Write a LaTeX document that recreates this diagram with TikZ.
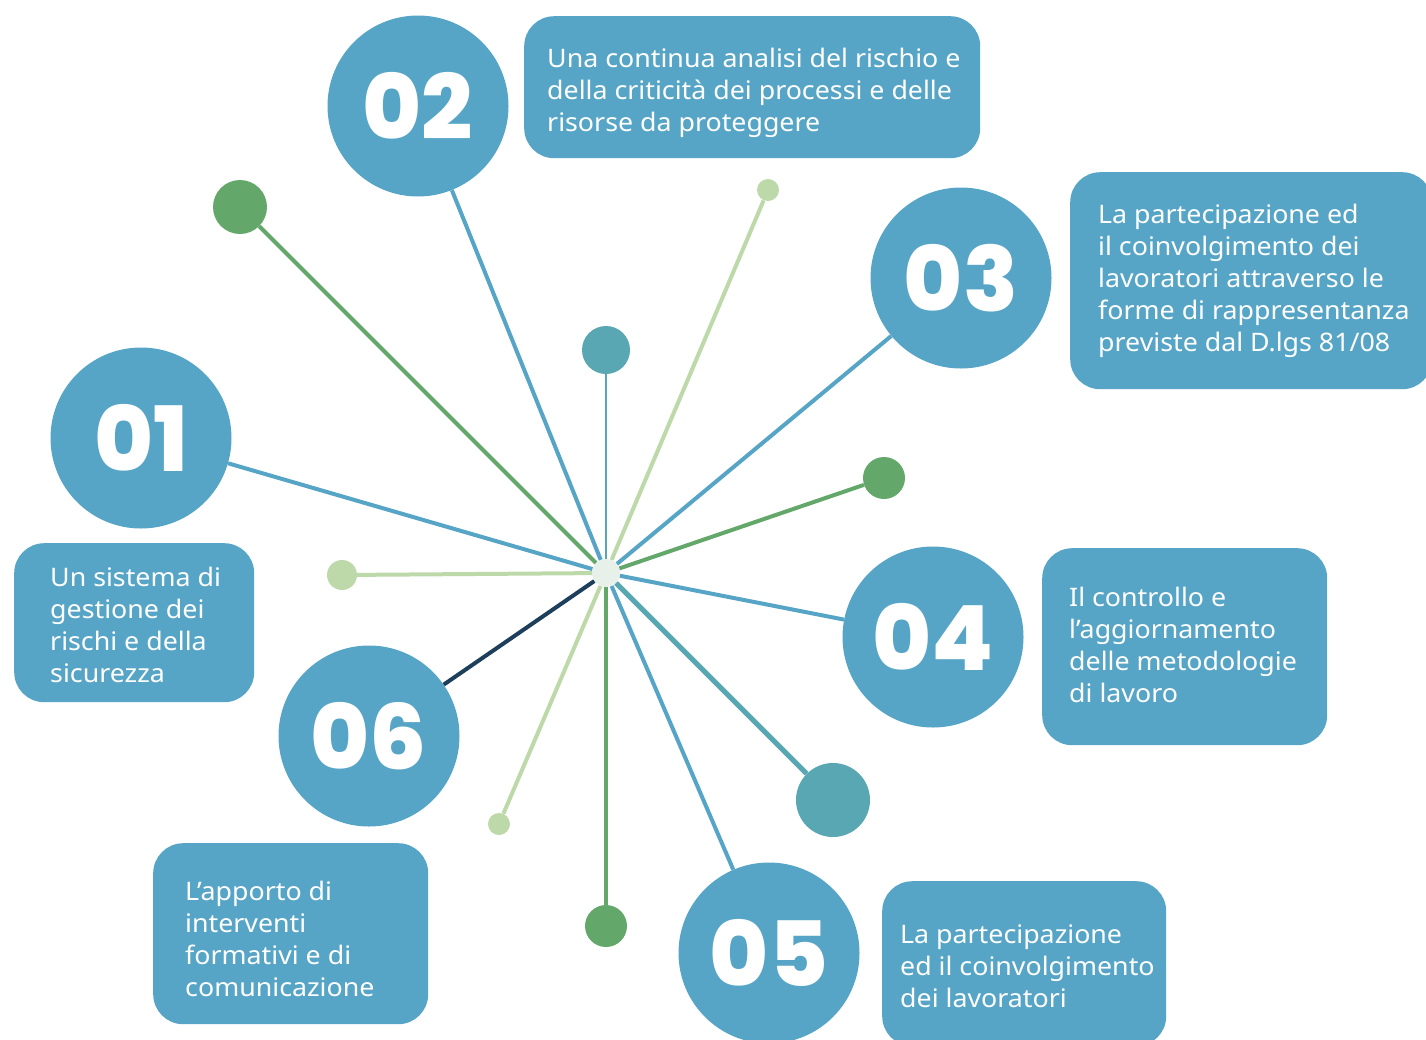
\documentclass[tikz,border=0pt]{standalone}
\usepackage{fontspec}
\setmainfont{Noto Sans}[FakeStretch=1.05]
\newfontfamily\numfont{Poppins}[BoldFont={Poppins ExtraBold}]
\definecolor{cblue}{HTML}{56A5C7}
\definecolor{cgreen}{HTML}{63A86A}
\definecolor{clight}{HTML}{BED9A9}
\definecolor{cteal}{HTML}{58A7B2}
\definecolor{cnavy}{HTML}{1E3F5C}
\definecolor{chub}{HTML}{E8F0EA}
\begin{document}
\begin{tikzpicture}[x=1pt,y=-1pt,
  numcirc/.style={circle, fill=cblue, minimum size=181pt, inner sep=0pt, text=white,
    font=\numfont\bfseries\fontsize{90}{90}\selectfont},
  dot/.style={circle, inner sep=0pt},
  infobox/.style={fill=cblue, rounded corners=30pt, inner sep=0pt, anchor=north west},
  boxtext/.style={anchor=north west, inner sep=0pt, text=white, align=left,
    font=\fontsize{25.5}{32}\selectfont},
  spoke/.style={line width=4pt}]
\useasboundingbox (0,0) rectangle (1426,1039);
\clip (0,0) rectangle (1426,1039);

% hub
\node[dot, fill=chub, minimum size=28pt] (hub) at (606,573) {};

% number circles
\node[numcirc] (c1) at (141,438) {01};
\node[numcirc] (c2) at (418,106) {02};
\node[numcirc] (c3) at (961,278) {03};
\node[numcirc] (c4) at (933,637) {04};
\node[numcirc] (c5) at (769,953) {05};
\node[numcirc] (c6) at (369,736) {06};

% dots
\node[dot, fill=cgreen, minimum size=54pt] (g1) at (240,207) {};
\node[dot, fill=cteal, minimum size=48pt] (t1) at (606,350) {};
\node[dot, fill=clight, minimum size=22pt] (l1) at (768,190) {};
\node[dot, fill=cgreen, minimum size=42pt] (g2) at (884,478) {};
\node[dot, fill=cteal, minimum size=74pt] (t2) at (833,800) {};
\node[dot, fill=cgreen, minimum size=42pt] (g3) at (606,926) {};
\node[dot, fill=clight, minimum size=22pt] (l2) at (499,824) {};
\node[dot, fill=clight, minimum size=30pt] (l3) at (342,575) {};

% spokes
\draw[spoke, cblue] (hub) -- (c1);
\draw[spoke, cblue] (hub) -- (c2);
\draw[spoke, cblue] (hub) -- (c3);
\draw[spoke, cblue] (hub) -- (c4);
\draw[spoke, cblue] (hub) -- (c5);
\draw[spoke, cnavy] (hub) -- (c6);
\draw[spoke, cgreen] (hub) -- (g1);
\draw[line width=2pt, cteal] (hub) -- (t1);
\draw[spoke, clight] (hub) -- (l1);
\draw[spoke, cgreen] (hub) -- (g2);
\draw[line width=5pt, cteal] (hub) -- (t2);
\draw[spoke, cgreen] (hub) -- (g3);
\draw[spoke, clight] (hub) -- (l2);
\draw[spoke, clight] (hub) -- (l3);

% boxes
\node[infobox, minimum width=456pt, minimum height=142pt] (b2) at (524,16) {};
\node[boxtext] (x2) at (547,48) {Una continua analisi del rischio e\\della criticità dei processi e delle\\risorse da proteggere};

\node[infobox, minimum width=362pt, minimum height=217pt] (b3) at (1070,172) {};
\node[boxtext] (x3) at (1098,204) {La partecipazione ed\\il coinvolgimento dei\\lavoratori attraverso le\\forme di rappresentanza\\previste dal D.lgs 81/08};

\node[infobox, minimum width=240pt, minimum height=159pt] (b1) at (14,543) {};
\node[boxtext] (x1) at (50,567) {Un sistema di\\gestione dei\\rischi e della\\sicurezza};

\node[infobox, minimum width=285pt, minimum height=197pt] (b4) at (1042,548) {};
\node[boxtext] (x4) at (1069,587) {Il controllo e\\l’aggiornamento\\delle metodologie\\di lavoro};

\node[infobox, minimum width=275pt, minimum height=181pt] (b6) at (153,843) {};
\node[boxtext] (x6) at (185,881) {L’apporto di\\interventi\\formativi e di\\comunicazione};

\node[infobox, minimum width=284pt, minimum height=165pt] (b5) at (882,881) {};
\node[boxtext] (x5) at (900,924) {La partecipazione\\ed il coinvolgimento\\dei lavoratori};
\end{tikzpicture}
\end{document}
